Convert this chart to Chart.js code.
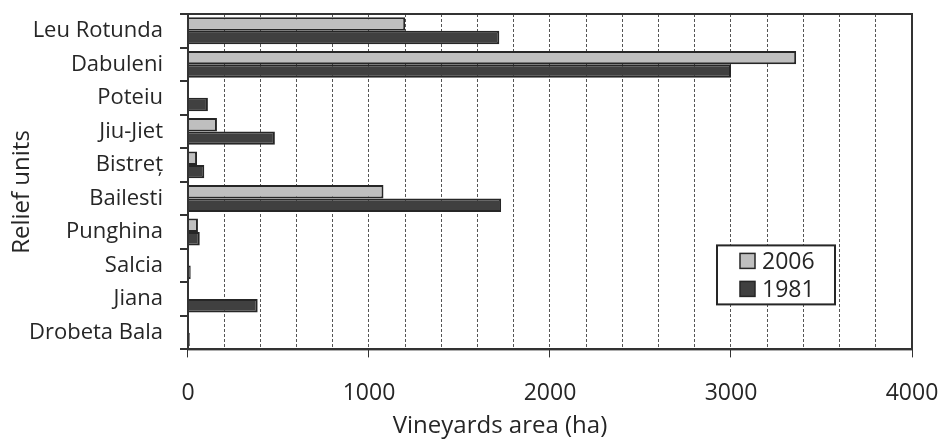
<!DOCTYPE html>
<html>
<head>
<meta charset="utf-8">
<script src="https://cdn.jsdelivr.net/npm/chart.js@4"></script>
<style>
  html, body { margin: 0; padding: 0; background: #fff; }
  #wrap { width: 944px; height: 441px; }
</style>
</head>
<body>
<div id="wrap"><canvas id="myChart" width="944" height="441"></canvas></div>
<script>
const units = ['Leu Rotunda', 'Dabuleni', 'Poteiu', 'Jiu-Jiet', 'Bistreț', 'Bailesti', 'Punghina', 'Salcia', 'Jiana', 'Drobeta Bala'];
const area2006 = [1200, 3360, 0, 160, 50, 1080, 55, 0, 0, 0];
const area1981 = [1720, 3000, 110, 480, 90, 1730, 65, 15, 385, 10];
const xTicks = [0, 1000, 2000, 3000, 4000];
const xTitle = 'Vineyards area (ha)';
const yTitle = 'Relief units';

const fontName = '"Open Sans", Lato, sans-serif';

// no extra room for half labels at the ends of the axes
const noEdgePadding = scale => {
  scale.paddingTop = 0;
  scale.paddingBottom = 0;
  scale.paddingLeft = 0;
  scale.paddingRight = 0;
};

// frame round the plot, axis titles and the legend box inside the plot
const framePlugin = {
  id: 'frame',
  afterDraw(chart) {
    const c = chart.ctx, a = chart.chartArea;
    c.save();
    c.strokeStyle = '#333';
    c.lineWidth = 2;
    c.strokeRect(a.left, a.top, a.right - a.left, a.bottom - a.top);

    // axis titles
    c.fillStyle = '#262626';
    c.textAlign = 'center';
    c.textBaseline = 'alphabetic';
    c.font = '24px ' + fontName;
    c.fillText(xTitle, 500, 433);
    c.save();
    c.translate(29, 192);
    c.rotate(-Math.PI / 2);
    c.font = '24px ' + fontName;
    c.fillText(yTitle, 0, 0);
    c.restore();

    // legend
    const w = 118, h = 59;
    const x = a.right - 77 - w, y = a.bottom - 45 - h;
    c.fillStyle = '#fff';
    c.fillRect(x, y, w, h);
    c.lineWidth = 2;
    c.strokeStyle = '#262626';
    c.strokeRect(x, y, w, h);
    c.font = '23px ' + fontName;
    c.textAlign = 'left';
    c.textBaseline = 'middle';
    chart.data.datasets.forEach((ds, i) => {
      const ry = y + 16 + i * 28;
      c.fillStyle = ds.backgroundColor;
      c.fillRect(x + 23, ry - 8, 15, 15);
      c.lineWidth = 1.5;
      c.strokeStyle = '#262626';
      c.strokeRect(x + 23, ry - 8, 15, 15);
      c.fillStyle = '#262626';
      c.fillText(ds.label, x + 45, ry + 1);
    });
    c.restore();
  }
};

new Chart(document.getElementById('myChart').getContext('2d'), {
  type: 'bar',
  data: {
    labels: units,
    datasets: [{
      label: '2006',
      data: area2006,
      backgroundColor: '#bfbfbf',
      borderColor: '#262626',
      borderWidth: 2
    }, {
      label: '1981',
      data: area1981,
      backgroundColor: '#404040',
      borderColor: '#262626',
      borderWidth: 2
    }]
  },
  options: {
    indexAxis: 'y',
    responsive: false,
    animation: false,
    layout: { padding: { top: 14, right: 32, left: 12, bottom: 12 } },
    categoryPercentage: 0.8,
    barPercentage: 1.0,
    plugins: {
      legend: { display: false },
      tooltip: { enabled: false }
    },
    scales: {
      x: {
        min: 0,
        max: 4000,
        afterBuildTicks(scale) {
          const t = [];
          for (let v = 0; v <= 4000; v += 200) t.push({ value: v });
          scale.ticks = t;
        },
        afterFit: noEdgePadding,
        ticks: {
          autoSkip: false,
          maxRotation: 0,
          color: '#262626',
          font: { family: fontName, size: 23 },
          padding: 22,
          callback: v => xTicks.includes(v) ? v : ''
        },
        grid: {
          color: '#555',
          lineWidth: 1,
          tickLength: 8,
          tickColor: ctx => ctx.tick && xTicks.includes(ctx.tick.value) ? '#333' : 'rgba(0,0,0,0)'
        },
        border: { color: '#333', width: 2, dash: [3, 2] }
      },
      y: {
        afterFit: noEdgePadding,
        ticks: {
          color: '#262626',
          font: { family: fontName, size: 22, lineHeight: 1 },
          padding: 17
        },
        grid: {
          drawOnChartArea: false,
          tickLength: 8,
          tickColor: '#333',
          lineWidth: 2
        },
        border: { color: '#333', width: 2 }
      }
    }
  },
  plugins: [framePlugin]
});
</script>
</body>
</html>
